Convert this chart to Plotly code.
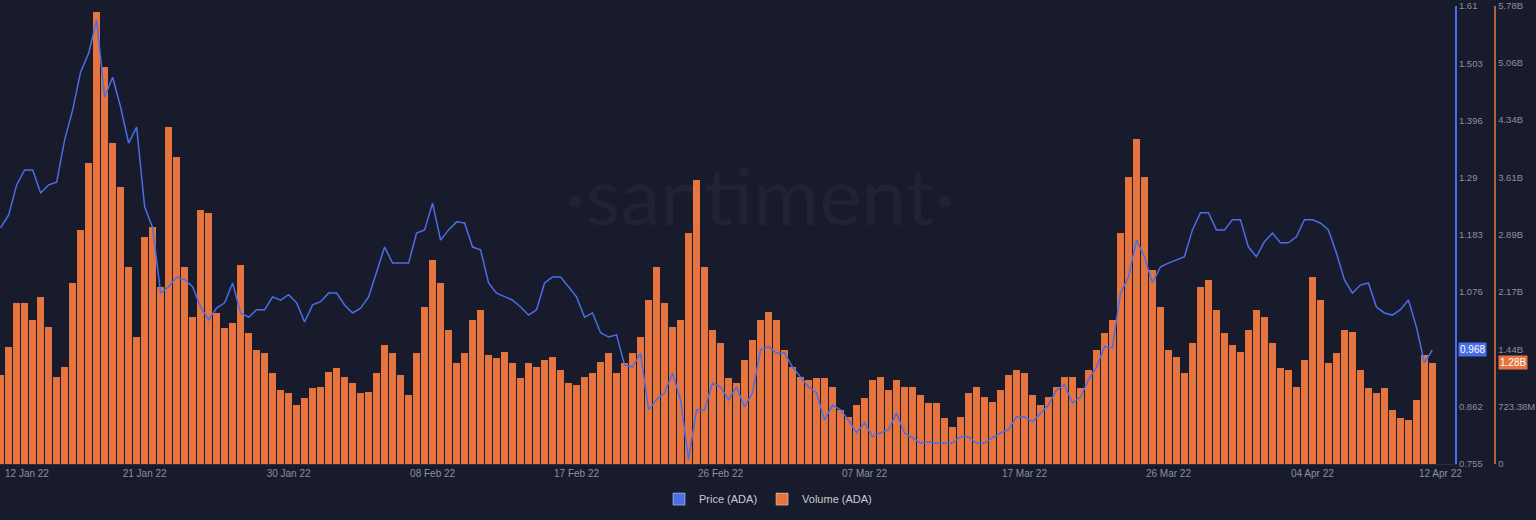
import pandas as pd
import plotly.graph_objects as go

price = [1.196,1.220,1.276,1.304,1.304,1.261,1.276,1.281,1.360,1.416,
1.487,1.522,1.584,1.440,1.477,1.421,1.354,1.384,1.235,1.196,
1.074,1.086,1.104,1.099,1.086,1.048,1.024,1.046,1.056,1.093,
1.037,1.029,1.043,1.043,1.067,1.061,1.071,1.056,1.020,1.052,
1.058,1.074,1.074,1.052,1.037,1.046,1.067,1.112,1.160,1.130,
1.130,1.130,1.186,1.192,1.242,1.173,1.192,1.207,1.205,1.160,
1.155,1.093,1.074,1.067,1.061,1.048,1.033,1.043,1.093,1.104,
1.104,1.086,1.067,1.029,1.037,1.000,0.992,0.996,0.940,0.936,
0.962,0.856,0.875,0.888,0.925,0.875,0.763,0.856,0.856,0.906,
0.899,0.875,0.899,0.862,0.888,0.968,0.974,0.962,0.962,0.936,
0.918,0.899,0.888,0.837,0.865,0.856,0.837,0.813,0.832,0.806,
0.813,0.819,0.850,0.813,0.804,0.794,0.796,0.794,0.794,0.794,
0.806,0.806,0.794,0.794,0.804,0.813,0.819,0.843,0.843,0.834,
0.850,0.865,0.893,0.903,0.869,0.880,0.912,0.936,0.974,0.972,
1.074,1.104,1.173,1.142,1.093,1.123,1.130,1.136,1.142,1.192,
1.224,1.224,1.192,1.192,1.211,1.211,1.160,1.142,1.170,1.186,
1.168,1.168,1.179,1.211,1.211,1.205,1.192,1.149,1.099,1.074,
1.089,1.093,1.048,1.037,1.033,1.043,1.061,1.011,0.944,0.968]

volume = [1.124,1.477,2.033,2.033,1.818,2.109,1.730,1.099,1.225,2.285,
2.955,3.801,5.700,5.013,4.053,3.498,2.487,1.604,2.866,2.992,
2.235,4.250,3.876,2.487,1.856,3.200,3.169,1.907,1.717,1.780,
2.513,1.654,1.440,1.402,1.149,0.934,0.897,0.745,0.833,0.960,
0.972,1.162,1.212,1.099,1.023,0.897,0.909,1.149,1.503,1.402,
1.124,0.871,1.402,1.982,2.576,2.285,1.692,1.275,1.402,1.818,
1.945,1.376,1.339,1.414,1.275,1.086,1.275,1.225,1.313,1.351,
1.187,1.023,0.998,1.099,1.149,1.288,1.402,1.149,1.275,1.402,
1.604,2.071,2.487,2.033,1.730,1.818,2.917,3.586,2.487,1.692,
1.528,1.086,1.023,1.313,1.566,1.818,1.919,1.818,1.440,1.225,
1.099,1.061,1.086,1.086,0.972,0.682,0.594,0.745,0.833,1.061,
1.099,0.934,1.061,0.972,0.972,0.871,0.770,0.770,0.581,0.467,
0.594,0.897,0.972,0.846,0.783,0.934,1.124,1.187,1.149,0.871,
0.745,0.846,0.972,1.099,1.099,0.960,1.187,1.440,1.654,1.818,
2.917,3.624,4.100,3.624,2.450,1.982,1.440,1.351,1.149,1.528,
2.235,2.323,1.945,1.654,1.503,1.414,1.692,1.945,1.856,1.528,
1.212,1.187,0.972,1.313,2.361,2.071,1.275,1.402,1.692,1.667,
1.187,0.960,0.897,0.960,0.682,0.581,0.556,0.808,1.376,1.280]

price_ticks = [0.755, 0.862, 0.969, 1.076, 1.183, 1.29, 1.396, 1.503, 1.61]
price_ticktext = ["0.755", "0.862", "", "1.076", "1.183", "1.29", "1.396", "1.503", "1.61"]
vol_ticks = [0, 0.72338, 1.44, 2.17, 2.89, 3.61, 4.34, 5.06, 5.78]
vol_ticktext = ["0", "723.38M", "1.44B", "2.17B", "2.89B", "3.61B", "4.34B", "5.06B", "5.78B"]
date_ticks = ["2022-01-21", "2022-01-30", "2022-02-08", "2022-02-17",
              "2022-02-26", "2022-03-07", "2022-03-17", "2022-03-26", "2022-04-04", "2022-04-12"]
date_ticktext = ["21 Jan 22", "30 Jan 22", "08 Feb 22", "17 Feb 22",
                 "26 Feb 22", "07 Mar 22", "17 Mar 22", "26 Mar 22", "04 Apr 22", "12 Apr 22"]
first_label = "12 Jan 22"

t_price = pd.date_range("2022-01-12 00:00", periods=len(price), freq="12h")
t_vol = pd.date_range("2022-01-12 00:00", periods=len(volume), freq="12h")

BG = "#181b2b"
BLUE = "#4a6ee8"
ORANGE = "#e6743e"
GRAY = "#8a8fa3"

fig = go.Figure()
# volume on the base y axis, price on the overlaying axis so the line draws on top
fig.add_trace(go.Bar(x=t_vol, y=volume, yaxis="y", marker=dict(color=ORANGE, line=dict(width=0)),
                     width=12*3600*1000*0.94, showlegend=False, name="Volume (ADA)"))
fig.add_trace(go.Scatter(x=t_price, y=price, yaxis="y2", mode="lines", line=dict(color=BLUE, width=1.5),
                         showlegend=False, name="Price (ADA)"))
fig.add_trace(go.Bar(x=[None], y=[None], marker_color=BLUE, name="Price (ADA)"))
fig.add_trace(go.Bar(x=[None], y=[None], marker_color=ORANGE, name="Volume (ADA)"))

fig.update_layout(
    width=1536, height=520, paper_bgcolor=BG, plot_bgcolor=BG,
    margin=dict(l=0, r=0, t=6, b=56, autoexpand=False),
    font=dict(family="Liberation Sans, Arial", color=GRAY, size=10),
    barmode="overlay", bargap=0,
    xaxis=dict(domain=[0, 0.9473], range=["2022-01-11 23:00", "2022-04-12 22:00"], automargin=False,
               tickvals=date_ticks, ticktext=date_ticktext, showgrid=False, zeroline=False,
               showline=True, linecolor="#2a2e40", ticks="", tickfont=dict(size=10, color=GRAY)),
    yaxis2=dict(overlaying="y", side="right", anchor="x", range=[0.755, 1.61], tickvals=price_ticks,
                ticktext=price_ticktext, showgrid=False, zeroline=False, showline=True, linecolor=BLUE,
                linewidth=2, ticks="", automargin=False, tickfont=dict(size=9.5, color=GRAY)),
    yaxis=dict(side="right", anchor="free", position=0.9735, range=[0, 5.78],
               tickvals=vol_ticks, ticktext=vol_ticktext, showgrid=False, zeroline=False,
               showline=True, linecolor="#b2603a", linewidth=2, ticks="", automargin=False,
               tickfont=dict(size=9.5, color=GRAY)),
    legend=dict(orientation="h", x=0.5, xanchor="center", y=-0.045, yanchor="top",
                font=dict(size=11, color="#c8cbd6"), bgcolor="rgba(0,0,0,0)"),
)

fig.add_annotation(text=first_label, xref="paper", yref="paper", x=0.002, y=-0.005, xanchor="left",
                   yanchor="top", showarrow=False, font=dict(size=10, color=GRAY))
fig.add_annotation(text="·santiment·", xref="paper", yref="paper", x=0.495, y=0.59,
                   showarrow=False, font=dict(size=80, color="rgba(255,255,255,0.035)", family="Lato"))
fig.add_annotation(text="0.968", xref="paper", yref="y2", x=0.9495, y=0.968, xanchor="left",
                   showarrow=False, bgcolor="#4a6ee8", font=dict(size=10, color="white"), borderpad=1)
fig.add_annotation(text="1.28B", xref="paper", yref="y", x=0.9755, y=1.28, xanchor="left",
                   showarrow=False, bgcolor=ORANGE, font=dict(size=10, color="white"), borderpad=1)

fig.write_html("out.html", config={"displayModeBar": False},
               post_script="document.body.style.margin='0';document.body.style.background='#181b2b';")
